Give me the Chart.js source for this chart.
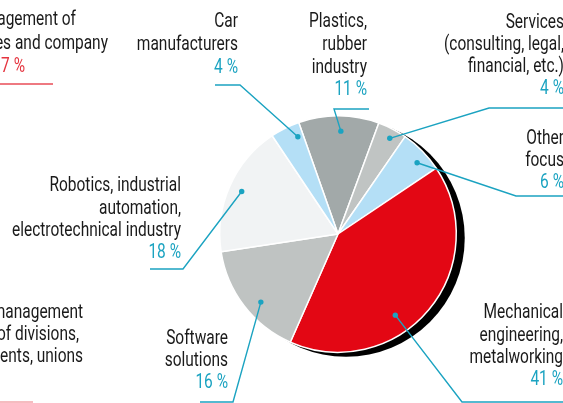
<!DOCTYPE html>
<html><head><meta charset="utf-8">
<script src="https://cdn.jsdelivr.net/npm/chart.js@4/dist/chart.umd.min.js"></script>
<style>html,body{margin:0;padding:0;background:#fff;overflow:hidden}canvas{display:block}</style>
</head><body>
<canvas id="c" width="563" height="403"></canvas>
<script>
// ---- data ----
const categories = ['Plastics, rubber industry', 'Services (consulting, legal, financial, etc.)', 'Other focus', 'Mechanical engineering, metalworking', 'Software solutions', 'Robotics, industrial automation, electrotechnical industry', 'Car manufacturers'];
const shares = [11, 4, 6, 41, 16, 18, 4];
const labelLines = [
  ['Plastics,', 'rubber', 'industry'],
  ['Services', '(consulting, legal,', 'financial, etc.)'],
  ['Other', 'focus'],
  ['Mechanical', 'engineering,', 'metalworking'],
  ['Software', 'solutions'],
  ['Robotics, industrial', 'automation,', 'electrotechnical industry'],
  ['Car', 'manufacturers']
];
const sliceColors = ['#a2a9a9', '#c0c4c3', '#b4dff6', '#e30714', '#bfc3c2', '#f1f3f4', '#b4dff6'];
// neighbouring (cut-off) panel texts
const sideTextTop = ['agement of', 'es and company'];
const sideShareTop = '17 %';
const sideTextBottom = ['management', 'of divisions,', 'ents, unions'];

// ---- layout (annotation placement only) ----
const FONT = 'Roboto, "Noto Sans", sans-serif';
const FS = 20;
const TEAL = '#1ba3c1';
const REF_TEXT = 'electrotechnical industry', REF_WIDTH = 169; // condensed look
const labelLayout = [
  { x: 367, ys: [22, 45, 68, 90], lead: [[369, 109], [334, 109]], dot: [0.53, 0.87] },
  { x: 564, ys: [23, 45, 67, 89], lead: [[563, 108], [489, 108]], dot: [0.57, 0.92] },
  { x: 564, ys: [139, 161, 183], lead: [[563, 196], [516, 196]], dot: [0.62, 0.90] },
  { x: 563, ys: [313, 336, 358, 380], lead: [[563, 402], [462, 402]], dot: [0.60, 0.84] },
  { x: 228, ys: [339, 361, 383], lead: [[200, 402], [233, 402]], dot: [0.43, 0.87] },
  { x: 181, ys: [186, 209, 231, 253], lead: [[150, 269], [183, 269]], dot: [0.50, 0.89] },
  { x: 238, ys: [22, 45, 68], lead: [[215, 85], [240, 85]], dot: [0.79, 0.89] }
];

const shadowPlugin = {
  id: 'shadow',
  beforeDatasetsDraw(chart) {
    const el = chart.getDatasetMeta(0).data[0];
    if (!el) return;
    const ctx = chart.ctx;
    ctx.save();
    ctx.fillStyle = '#000';
    ctx.beginPath();
    ctx.arc(el.x + 8, el.y + 4, el.outerRadius + 0.5, 0, Math.PI * 2);
    ctx.fill();
    ctx.restore();
  }
};

const labelPlugin = {
  id: 'labels',
  afterDatasetsDraw(chart) {
    const ctx = chart.ctx;
    const meta = chart.getDatasetMeta(0);
    ctx.save();
    ctx.font = FS + 'px ' + FONT;
    ctx.textAlign = 'right';
    ctx.textBaseline = 'middle';
    const sx = REF_WIDTH / ctx.measureText(REF_TEXT).width;
    const txt = (t, x, y) => {
      ctx.save(); ctx.translate(x, y); ctx.scale(sx, 1); ctx.fillText(t, 0, 0); ctx.restore();
    };
    meta.data.forEach((el, i) => {
      const L = labelLayout[i];
      const lines = labelLines[i];
      ctx.fillStyle = '#1a1a1a';
      lines.forEach((t, j) => txt(t, L.x, L.ys[j]));
      ctx.fillStyle = TEAL;
      txt(shares[i] + ' %', L.x, L.ys[lines.length]);
      const a = el.startAngle + L.dot[0] * (el.endAngle - el.startAngle);
      const r = L.dot[1] * el.outerRadius;
      const dx = el.x + Math.cos(a) * r, dy = el.y + Math.sin(a) * r;
      ctx.strokeStyle = TEAL;
      ctx.lineWidth = 1.4;
      ctx.beginPath();
      ctx.moveTo(L.lead[0][0], L.lead[0][1]);
      ctx.lineTo(L.lead[1][0], L.lead[1][1]);
      ctx.lineTo(dx, dy);
      ctx.stroke();
      ctx.fillStyle = TEAL;
      ctx.beginPath();
      ctx.arc(dx, dy, 2.7, 0, Math.PI * 2);
      ctx.fill();
    });
    ctx.fillStyle = '#1a1a1a';
    txt(sideTextTop[0], 76, 20);
    txt(sideTextTop[1], 108, 44);
    ctx.fillStyle = '#e5343f';
    txt(sideShareTop, 25, 67);
    ctx.fillStyle = '#1a1a1a';
    txt(sideTextBottom[0], 83, 313);
    txt(sideTextBottom[1], 79, 335);
    txt(sideTextBottom[2], 83, 357);
    ctx.strokeStyle = '#e84d57';
    ctx.lineWidth = 1.6;
    ctx.beginPath(); ctx.moveTo(0, 84); ctx.lineTo(53, 84); ctx.stroke();
    ctx.strokeStyle = '#f2a6ab';
    ctx.beginPath(); ctx.moveTo(0, 402); ctx.lineTo(33, 402); ctx.stroke();
    ctx.restore();
  }
};

new Chart(document.getElementById('c'), {
  type: 'pie',
  data: {
    labels: categories,
    datasets: [{
      data: shares,
      backgroundColor: sliceColors,
      borderColor: '#ffffff',
      borderWidth: 1.5,
      hoverOffset: 0,
      offset: 0
    }]
  },
  options: {
    responsive: false,
    animation: false,
    events: [],
    rotation: -19.4,
    layout: { padding: { left: 219, right: 106, top: 115, bottom: 50 } },
    plugins: { legend: { display: false }, tooltip: { enabled: false } }
  },
  plugins: [shadowPlugin, labelPlugin]
});
</script>
</body></html>
